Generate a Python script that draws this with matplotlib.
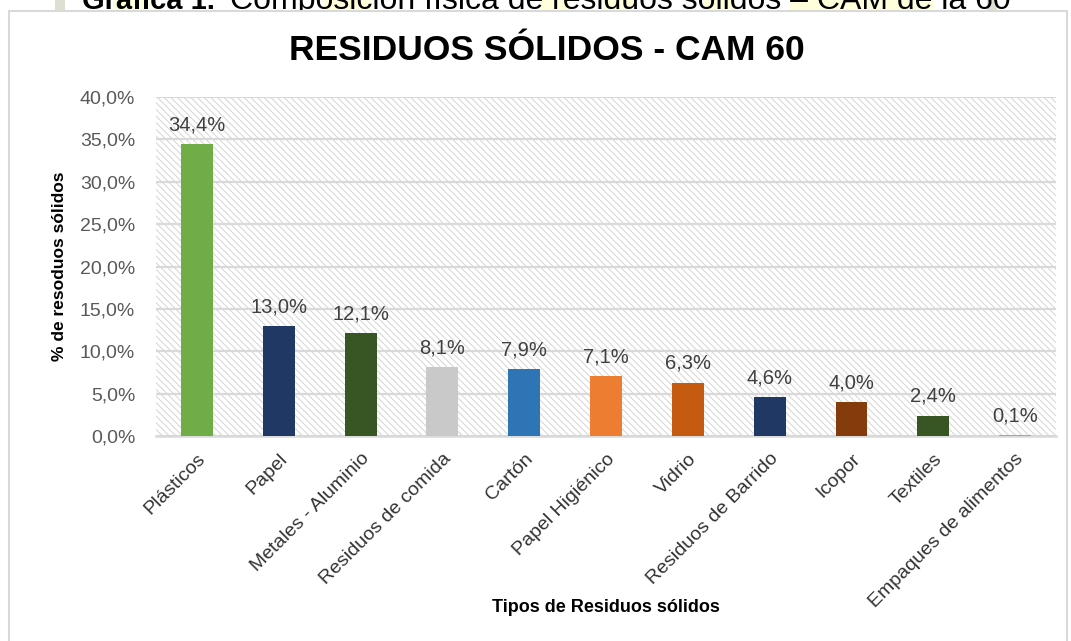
"""Bar chart: physical composition of solid waste at CAM 60."""

import matplotlib

matplotlib.use("Agg")
import matplotlib.pyplot as plt
from matplotlib.patches import Rectangle
from matplotlib.ticker import FuncFormatter, MultipleLocator
from matplotlib.transforms import ScaledTranslation

plt.rcParams["font.family"] = ["Liberation Sans", "DejaVu Sans"]
plt.rcParams["hatch.linewidth"] = 0.7

categorias = [
    "Plásticos", "Papel", "Metales - Aluminio", "Residuos de comida", "Cartón",
    "Papel Higiénico", "Vidrio", "Residuos de Barrido", "Icopor", "Textiles",
    "Empaques de alimentos",
]
porcentajes = [34.4, 13.0, 12.1, 8.1, 7.9, 7.1, 6.3, 4.6, 4.0, 2.4, 0.1]
colores = [
    "#70AD47", "#203864", "#375623", "#C9C9C9", "#2E75B6",
    "#ED7D31", "#C55A11", "#203864", "#843C0C", "#375623", "#A5A5A5",
]

titulo = "RESIDUOS SÓLIDOS - CAM 60"
etiqueta_y = "% de resoduos sólidos"
etiqueta_x = "Tipos de Residuos sólidos"
leyenda_num = "Gráfica 1."
leyenda_txt = "Composición física de residuos sólidos – CAM de la 60"

W, H = 1071, 641


def fx(px):
    return px / W


def fy(py):
    return 1 - py / H


def pct(v, _pos=None):
    return f"{v:.1f}%".replace(".", ",")


fig = plt.figure(figsize=(W / 100, H / 100), dpi=100)

# caption of the document peeking above the chart frame
for x0, x1 in [(113, 150), (324, 372), (540, 570), (603, 637), (703, 734), (790, 933)]:
    fig.patches.append(Rectangle((fx(x0), fy(11)), fx(x1 - x0), 11 / H,
                                 transform=fig.transFigure, facecolor="#FFFFDC",
                                 edgecolor="none", zorder=-3))
for x0, x1 in [(55, 65), (987, 997)]:
    fig.patches.append(Rectangle((fx(x0), fy(11)), fx(x1 - x0), 11 / H,
                                 transform=fig.transFigure, facecolor="#DCDFD2",
                                 edgecolor="none", zorder=-3))
fig.text(fx(82), fy(9), leyenda_num, fontsize=21, fontweight="bold",
         va="baseline", ha="left", color="black", zorder=-2)
fig.text(fx(230), fy(9), leyenda_txt, fontsize=23,
         va="baseline", ha="left", color="black", zorder=-2)

# chart frame
fig.patches.append(Rectangle((fx(9), -0.05), fx(1067 - 9), fy(11) + 0.05,
                             transform=fig.transFigure, facecolor="white",
                             edgecolor="#D9D9D9", linewidth=1.5, zorder=-1))

ax = fig.add_axes([fx(156), fy(436), fx(1056 - 156), (436 - 97) / H])
ax.set_facecolor("none")
ax.add_patch(Rectangle((0, 0), 1, 1, transform=ax.transAxes, facecolor="white",
                       edgecolor="#D4D4D4", linewidth=0, hatch="\\" * 5, zorder=0))

x = list(range(len(categorias)))
bars = ax.bar(x, porcentajes, width=0.39, color=colores, zorder=3)
for b, v in zip(bars, porcentajes):
    ax.annotate(pct(v), (b.get_x() + b.get_width() / 2, v), xytext=(0, 7),
                textcoords="offset points", ha="center", va="bottom",
                fontsize=14.5, color="#404040")

ax.set_xlim(-0.5, len(categorias) - 0.5)
ax.set_ylim(0, 40)
ax.yaxis.set_major_locator(MultipleLocator(5))
ax.yaxis.set_major_formatter(FuncFormatter(pct))
ax.grid(axis="y", color="#D9D9D9", linewidth=1.6, zorder=1)
ax.set_axisbelow(True)
for side in ["top", "right", "left"]:
    ax.spines[side].set_visible(False)
ax.spines["bottom"].set_color("#D9D9D9")
ax.spines["bottom"].set_linewidth(1.8)
ax.tick_params(axis="y", length=0, pad=15, labelsize=14, labelcolor="#595959")
ax.tick_params(axis="x", length=0, pad=6)
ax.set_xticks(x)
ax.set_xticklabels(categorias, rotation=45, ha="right", va="center",
                   rotation_mode="anchor", fontsize=14, color="#333333")
shift = ScaledTranslation(6 / 100, -12 / 100, fig.dpi_scale_trans)
for lbl in ax.get_xticklabels():
    lbl.set_transform(lbl.get_transform() + shift)

fig.text(fx(547), fy(50), titulo, fontsize=25.5, fontweight="bold",
         ha="center", va="center", color="black")
fig.text(fx(60), fy(266), etiqueta_y, fontsize=12.5, fontweight="bold",
         rotation=90, ha="center", va="center", color="black")
fig.text(fx(606), fy(607), etiqueta_x, fontsize=13, fontweight="bold",
         ha="center", va="center", color="black")

fig.savefig("out.png", dpi=100)
